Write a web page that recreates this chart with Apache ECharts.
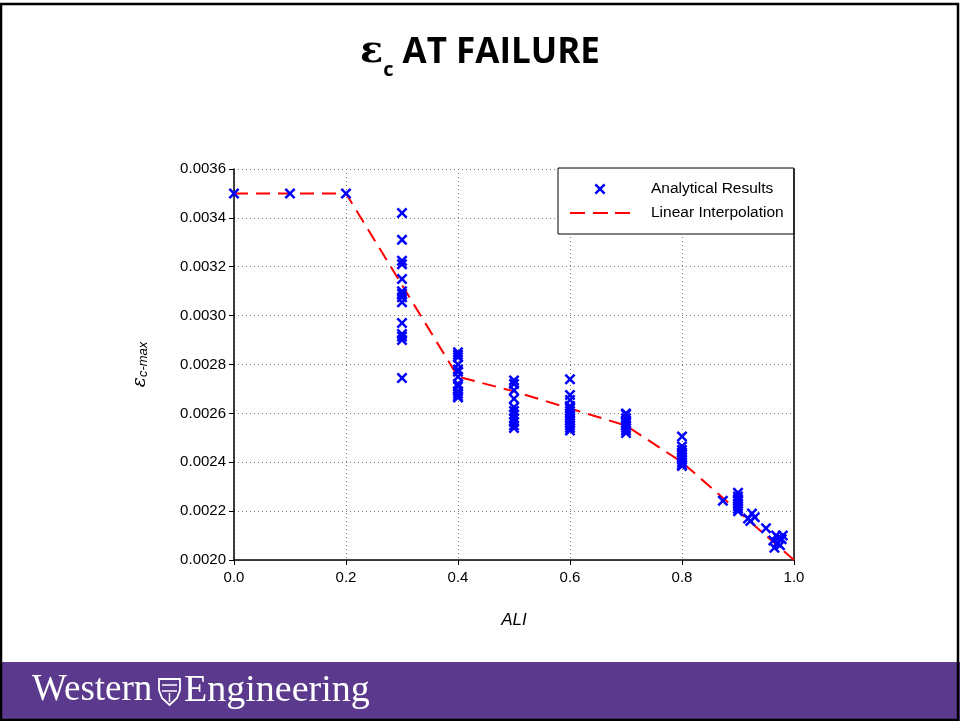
<!DOCTYPE html>
<html>
<head>
<meta charset="utf-8">
<script src="https://cdn.jsdelivr.net/npm/echarts@6/dist/echarts.min.js"></script>
<style>html,body{margin:0;padding:0;background:#fff;}#c{width:960px;height:721px;}</style>
</head>
<body>
<div id="c"></div>
<script>
// ---- data ----
var titleText = 'AT FAILURE';
var xTickLabels = ['0.0', '0.2', '0.4', '0.6', '0.8', '1.0'];
var seriesNames = ['Analytical Results', 'Linear Interpolation'];

var ali0 = [[0.0, 0.00350], [0.1, 0.00350], [0.2, 0.00350]];
var ali3 = [0.00342, 0.00331, 0.003225, 0.00321, 0.00315, 0.00310, 0.00309, 0.003075, 0.003055, 0.00297, 0.002925, 0.002915, 0.00290, 0.002745];
var ali4 = [0.00285, 0.00284, 0.00283, 0.00280, 0.00278, 0.00277, 0.00275, 0.00272, 0.00271, 0.00269, 0.00268, 0.00267, 0.002665];
var ali5 = [0.002735, 0.00272, 0.002695, 0.00266, 0.002625, 0.00261, 0.002595, 0.00258, 0.002565, 0.00255, 0.00254];
var ali6 = [0.00274, 0.002675, 0.002655, 0.00263, 0.00262, 0.00261, 0.00260, 0.00259, 0.00258, 0.00257, 0.00256, 0.00255, 0.00254, 0.00253];
var ali7 = [0.00260, 0.002595, 0.00258, 0.00257, 0.00256, 0.00255, 0.00254, 0.00253, 0.00252];
var ali8 = [0.002505, 0.002465, 0.00245, 0.00244, 0.00243, 0.00242, 0.00241, 0.00240, 0.00239, 0.002385];
var ali9 = [0.002275, 0.00226, 0.00225, 0.00224, 0.00223, 0.00222, 0.00221, 0.00220];
var aliHigh = [[0.873, 0.002242], [0.918, 0.00217], [0.922, 0.00216], [0.925, 0.00219], [0.930, 0.002175],
  [0.950, 0.00213], [0.963, 0.00208], [0.965, 0.00205], [0.968, 0.00210], [0.970, 0.00207],
  [0.972, 0.00209], [0.975, 0.00206], [0.978, 0.002085], [0.980, 0.00210]];
var interpX = [0.0, 0.1, 0.2, 0.4, 0.5, 0.6, 0.7, 0.8, 1.0];
var interpY = [0.0035, 0.0035, 0.0035, 0.00275, 0.00269, 0.00262, 0.00255, 0.0024, 0.0020];

// ---- build ----
function col(x, arr) { return arr.map(function (v) { return [x, v]; }); }
var scatterData = [].concat(ali0, col(0.3, ali3), col(0.4, ali4), col(0.5, ali5), col(0.6, ali6),
  col(0.7, ali7), col(0.8, ali8), col(0.9, ali9), aliHigh);
var lineData = interpX.map(function (x, i) { return [x, interpY[i]]; });

var xPath = 'path://M0,1.6L1.6,0L5,3.4L8.4,0L10,1.6L6.6,5L10,8.4L8.4,10L5,6.6L1.6,10L0,8.4L3.4,5Z';
var dashIcon = 'path://M0,0h15v2h-15zM23,0h15v2h-15zM45,0h15v2h-15z';

var chart = echarts.init(document.getElementById('c'), null, { renderer: 'canvas' });
var option = {
  backgroundColor: '#ffffff',
  animation: false,
  title: {
    text: '{e|ε}{s|c}{t| ' + titleText + '}',
    left: 'center',
    top: 22,
    textStyle: {
      rich: {
        e: { fontFamily: 'DejaVu Serif', fontSize: 38, color: '#000', verticalAlign: 'bottom', lineHeight: 44 },
        s: { fontFamily: 'Open Sans', fontWeight: 'bold', fontSize: 20, color: '#000', verticalAlign: 'bottom', lineHeight: 34, padding: [0, 0, -9, 0] },
        t: { fontFamily: 'Open Sans', fontWeight: 'bold', fontSize: 35, color: '#000', verticalAlign: 'bottom', lineHeight: 44 }
      }
    }
  },
  grid: { left: 234, right: 166, top: 169, bottom: 161, containLabel: false },
  legend: {
    left: 558, top: 168,
    orient: 'vertical',
    backgroundColor: '#ffffff',
    borderColor: '#000', borderWidth: 1,
    padding: [13, 10, 13, 12],
    itemWidth: 60, itemHeight: 11, itemGap: 8,
    textStyle: { fontFamily: 'Liberation Sans', fontSize: 15.5, color: '#000', padding: [0, 0, 0, 16] },
    data: [
      { name: seriesNames[0], icon: xPath, itemStyle: { color: '#0000ff' } },
      { name: seriesNames[1], icon: dashIcon, itemStyle: { color: '#ff0000' } }
    ]
  },
  xAxis: {
    type: 'value', min: 0, max: 1, interval: 0.2,
    name: 'ALI', nameLocation: 'middle', nameGap: 52,
    nameTextStyle: { fontFamily: 'Liberation Sans', fontStyle: 'italic', fontSize: 17, color: '#000' },
    axisLine: { show: true, onZero: false, lineStyle: { color: '#000', width: 1.5 } },
    axisTick: { show: true, inside: false, length: 5, lineStyle: { color: '#000' } },
    axisLabel: { fontFamily: 'Liberation Sans', fontSize: 15, color: '#000', margin: 10,
      formatter: function (v) { var i = Math.round(v / 0.2); return xTickLabels[i] !== undefined ? xTickLabels[i] : v.toFixed(1); } },
    splitLine: { show: true, lineStyle: { color: '#777', type: [1, 3], width: 1 } }
  },
  yAxis: [{
    type: 'value', min: 0.002, max: 0.0036, interval: 0.0002,
    name: '{e|ε}{s|c-max}', nameLocation: 'middle', nameGap: 84, nameRotate: 90,
    nameTextStyle: { rich: {
      e: { fontFamily: 'DejaVu Serif', fontStyle: 'italic', fontSize: 19, color: '#000' },
      s: { fontFamily: 'Liberation Sans', fontStyle: 'italic', fontSize: 13, color: '#000', padding: [7, 0, 0, 0] }
    } },
    axisLine: { show: true, onZero: false, lineStyle: { color: '#000', width: 1.5 } },
    axisTick: { show: true, inside: false, length: 5, lineStyle: { color: '#000' } },
    axisLabel: { fontFamily: 'Liberation Sans', fontSize: 15, color: '#000', margin: 8,
      formatter: function (v) { return v.toFixed(4); } },
    splitLine: { show: true, lineStyle: { color: '#777', type: [1, 3], width: 1 } }
  }, {
    type: 'value', position: 'right', min: 0.002, max: 0.0036,
    axisLine: { show: true, onZero: false, lineStyle: { color: '#000', width: 1.5 } },
    axisTick: { show: false }, axisLabel: { show: false }, splitLine: { show: false }
  }],
  series: [
    {
      name: seriesNames[1], type: 'line', data: lineData, yAxisIndex: 0,
      showSymbol: false, symbol: 'none', z: 2,
      lineStyle: { color: '#ff0000', width: 2, type: [14, 8] },
      itemStyle: { color: '#ff0000' }
    },
    {
      name: seriesNames[0], type: 'scatter', data: scatterData, yAxisIndex: 0,
      symbol: xPath, symbolSize: 11, z: 3,
      itemStyle: { color: '#0000ff', opacity: 1 }
    }
  ],
  graphic: [
    { type: 'rect', shape: { x: 0, y: 662, width: 960, height: 59 }, style: { fill: '#5b3a8d' }, z: -1 },
    { type: 'text', left: 32, top: 672, style: { text: 'Western', fill: '#fff', font: '37px "Liberation Serif"' } },
    { type: 'polygon', shape: { points: [[159, 679], [180, 679], [180, 690], [177, 698], [169.5, 705], [162, 698], [159, 690]] }, style: { fill: 'none', stroke: '#fff', lineWidth: 1.8 } },
    { type: 'polyline', shape: { points: [[162, 685], [177, 685]] }, style: { fill: 'none', stroke: '#fff', lineWidth: 1.5 } },
    { type: 'polyline', shape: { points: [[162, 691], [177, 691]] }, style: { fill: 'none', stroke: '#fff', lineWidth: 1.5 } },
    { type: 'polyline', shape: { points: [[169.5, 693], [169.5, 702]] }, style: { fill: 'none', stroke: '#fff', lineWidth: 1.5 } },
    { type: 'text', left: 184, top: 672, style: { text: 'Engineering', fill: '#fff', font: '38px "Liberation Serif"' } },
    { type: 'rect', shape: { x: 1, y: 4, width: 957, height: 716 }, style: { fill: 'none', stroke: '#000', lineWidth: 2.5 }, z: 10 }
  ]
};
chart.setOption(option);
</script>
</body>
</html>
